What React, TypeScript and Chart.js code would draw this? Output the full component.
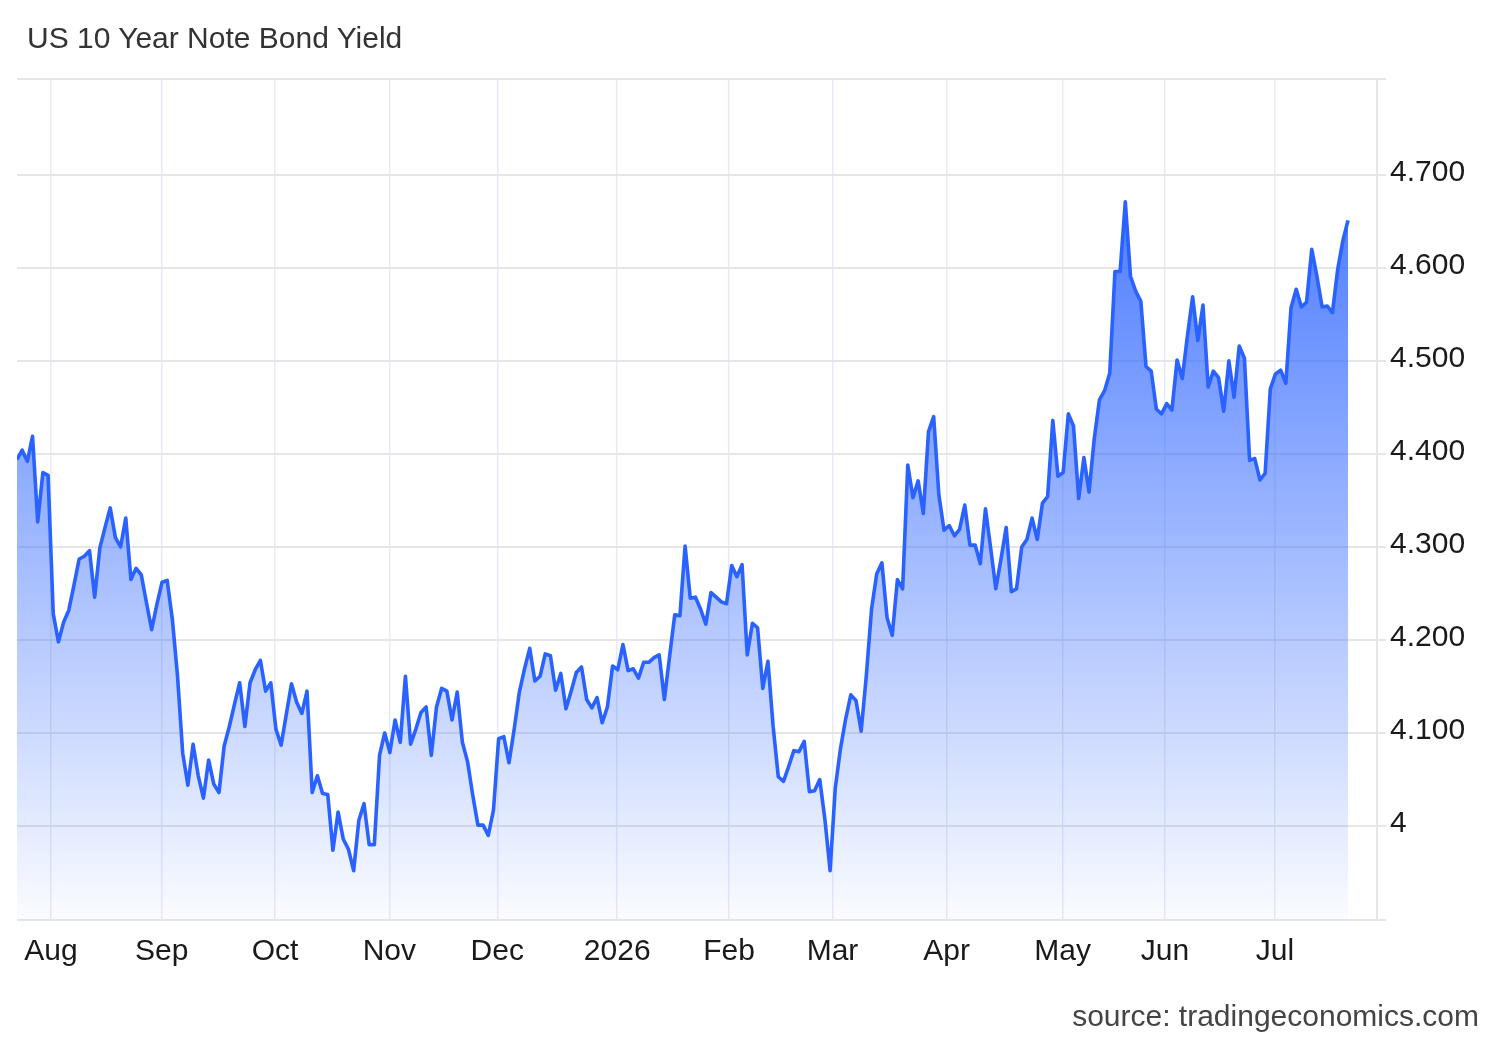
import React, { useEffect, useRef } from 'react';
import { Chart, registerables } from 'chart.js';

Chart.register(...registerables);

const chartTitle = 'US 10 Year Note Bond Yield';
const sourceText = 'source: tradingeconomics.com';

// Daily (trading-day) yields, late Jul 2025 -> late Jul 2026
const yields = [
  4.394, 4.404, 4.392, 4.419, 4.327, 4.380, 4.377, 4.228, 4.198, 4.219,
  4.232, 4.259, 4.287, 4.290, 4.296, 4.246, 4.299, 4.321, 4.342, 4.310,
  4.300, 4.331, 4.265, 4.277, 4.270, 4.240, 4.211, 4.238, 4.262, 4.264,
  4.222, 4.161, 4.078, 4.044, 4.088, 4.054, 4.030, 4.071, 4.045, 4.036,
  4.086, 4.107, 4.131, 4.154, 4.107, 4.154, 4.168, 4.178, 4.145, 4.154,
  4.104, 4.087, 4.120, 4.153, 4.133, 4.121, 4.145, 4.036, 4.054, 4.035,
  4.034, 3.974, 4.015, 3.986, 3.975, 3.952, 4.006, 4.024, 3.980, 3.980,
  4.076, 4.100, 4.079, 4.114, 4.090, 4.161, 4.088, 4.104, 4.122, 4.128,
  4.076, 4.128, 4.148, 4.145, 4.114, 4.144, 4.090, 4.069, 4.033, 4.001,
  4.001, 3.990, 4.017, 4.094, 4.096, 4.068, 4.104, 4.144, 4.169, 4.191,
  4.156, 4.161, 4.185, 4.183, 4.146, 4.164, 4.126, 4.145, 4.165, 4.171,
  4.136, 4.127, 4.138, 4.111, 4.128, 4.172, 4.168, 4.195, 4.167, 4.169,
  4.159, 4.176, 4.176, 4.181, 4.184, 4.136, 4.182, 4.227, 4.226, 4.301,
  4.245, 4.246, 4.233, 4.217, 4.251, 4.246, 4.241, 4.239, 4.280, 4.268,
  4.281, 4.184, 4.218, 4.213, 4.148, 4.177, 4.107, 4.053, 4.048, 4.064,
  4.081, 4.080, 4.091, 4.037, 4.038, 4.050, 4.007, 3.952, 4.041, 4.083,
  4.115, 4.141, 4.135, 4.102, 4.162, 4.233, 4.271, 4.283, 4.224, 4.205,
  4.265, 4.255, 4.388, 4.353, 4.371, 4.336, 4.424, 4.440, 4.356, 4.318,
  4.323, 4.312, 4.319, 4.345, 4.302, 4.302, 4.282, 4.341, 4.299, 4.255,
  4.287, 4.321, 4.252, 4.255, 4.300, 4.308, 4.331, 4.308, 4.347, 4.354,
  4.436, 4.376, 4.380, 4.443, 4.430, 4.352, 4.396, 4.359, 4.416, 4.458,
  4.468, 4.487, 4.596, 4.596, 4.671, 4.591, 4.575, 4.564, 4.494, 4.489,
  4.448, 4.443, 4.454, 4.447, 4.501, 4.481, 4.527, 4.569, 4.522, 4.560,
  4.472, 4.489, 4.482, 4.446, 4.500, 4.461, 4.516, 4.503, 4.393, 4.395,
  4.372, 4.379, 4.470, 4.486, 4.490, 4.476, 4.557, 4.577, 4.558, 4.563,
  4.620, 4.591, 4.558, 4.559, 4.552, 4.598, 4.629, 4.651,
];

// Month starts, expressed in trading-day index units
const monthTickIndex = [6.56, 27.94, 49.82, 71.89, 92.74, 115.89, 137.48, 157.46, 179.51, 201.91, 221.66, 242.9];
const monthTickLabels = ['Aug', 'Sep', 'Oct', 'Nov', 'Dec', '2026', 'Feb', 'Mar', 'Apr', 'May', 'Jun', 'Jul'];

const yTickValues = [4.0, 4.1, 4.2, 4.3, 4.4, 4.5, 4.6, 4.7];
const yTickLabels = ['4', '4.100', '4.200', '4.300', '4.400', '4.500', '4.600', '4.700'];

const xMin = 0;
const xMax = 262.6;
const yMin = 3.899;
const yMax = 4.803;

const FONT = "'Liberation Sans', Arial, Helvetica, sans-serif";

export default function App() {
  const canvasRef = useRef<HTMLCanvasElement | null>(null);

  useEffect(() => {
    const canvas = canvasRef.current;
    if (!canvas) return;
    const chart = new Chart(canvas, {
      type: 'line',
      data: {
        datasets: [
          {
            data: yields.map((v, i) => ({ x: i, y: v })),
            borderColor: '#2a62ff',
            borderWidth: 3.6,
            pointRadius: 0,
            tension: 0,
            borderJoinStyle: 'round',
            fill: 'start',
            backgroundColor: (ctx: any) => {
              const c = ctx.chart;
              const area = c.chartArea;
              if (!area) return 'rgba(42,98,255,0.4)';
              const g = c.ctx.createLinearGradient(0, area.top, 0, area.bottom);
              g.addColorStop(0, 'rgba(42,98,255,0.97)');
              g.addColorStop(1, 'rgba(42,98,255,0.02)');
              return g;
            },
          },
        ],
      },
      options: {
        animation: false,
        responsive: true,
        maintainAspectRatio: false,
        layout: { padding: { left: 17, top: 79, right: 0, bottom: 0 } },
        plugins: {
          legend: { display: false },
          tooltip: { enabled: false },
          title: { display: false },
        },
        scales: {
          x: {
            type: 'linear',
            min: xMin,
            max: xMax,
            afterBuildTicks: (s: any) => {
              s.ticks = monthTickIndex.map((v) => ({ value: v }));
            },
            afterFit: (s: any) => {
              s.height = 120;
            },
            ticks: {
              autoSkip: false,
              maxRotation: 0,
              minRotation: 0,
              padding: 14,
              color: '#1a1a1a',
              font: { family: FONT, size: 30 },
              callback: (_v: any, i: number) => monthTickLabels[i] ?? '',
            },
            grid: { color: '#e5ebf8', lineWidth: 1.5, drawTicks: false },
            border: { display: false },
          },
          y: {
            position: 'right',
            min: yMin,
            max: yMax,
            afterBuildTicks: (s: any) => {
              s.ticks = [yMin, ...yTickValues, yMax].map((v) => ({ value: v }));
            },
            afterFit: (s: any) => {
              s.width = 123;
            },
            ticks: {
              autoSkip: false,
              padding: 4,
              labelOffset: -2,
              color: '#1a1a1a',
              font: { family: FONT, size: 30 },
              callback: (_v: any, i: number) => (i >= 1 && i <= yTickLabels.length ? yTickLabels[i - 1] : ''),
            },
            grid: { color: '#e6e6e6', lineWidth: 2, tickLength: 9 },
            border: { display: true, color: '#e6e6e6', width: 2 },
          },
        },
      },
    } as any);
    return () => chart.destroy();
  }, []);

  return (
    <div style={{ position: 'fixed', left: 0, top: 0, width: 1500, height: 1040, background: '#fff' }}>
      <canvas ref={canvasRef} style={{ position: 'absolute', left: 0, top: 0 }} />
      <div
        style={{
          position: 'absolute',
          left: 27,
          top: 23,
          fontFamily: FONT,
          fontSize: 30,
          lineHeight: '30px',
          color: '#333',
          whiteSpace: 'nowrap',
        }}
      >
        {chartTitle}
      </div>
      <div
        style={{
          position: 'absolute',
          right: 21,
          top: 1001,
          fontFamily: FONT,
          fontSize: 30,
          lineHeight: '30px',
          color: '#444',
          whiteSpace: 'nowrap',
        }}
      >
        {sourceText}
      </div>
    </div>
  );
}
